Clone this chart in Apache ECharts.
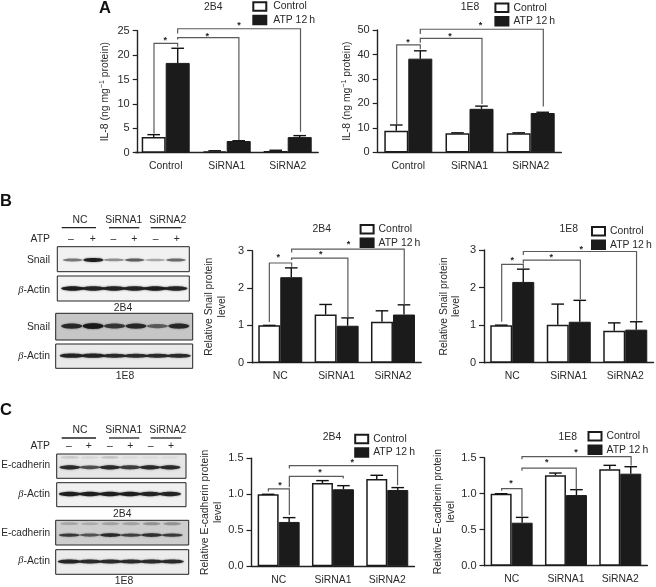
<!DOCTYPE html>
<html>
<head>
<meta charset="utf-8">
<style>
  html, body { margin: 0; padding: 0; background: #fff; }
  #chart { width: 656px; height: 587px; }
</style>
<script src="https://cdn.jsdelivr.net/npm/echarts@6/dist/echarts.min.js"></script>
</head>
<body>
<div id="chart"></div>
<script>
const groupsA = ['Control', 'SiRNA1', 'SiRNA2']
const groupsBC = ['NC', 'SiRNA1', 'SiRNA2']
const ATP_NAME = 'ATP 12\u2009h'
const ticksAL = 25, ticksAR = 50

// panel A, IL-8
const a2b4Control = [3.2, 0.3, 0.35]
const a2b4ControlTop = [3.7, 0.4, 0.5]
const a2b4Atp = [18.4, 2.4, 3.2]
const a2b4AtpTop = [21.4, 2.45, 3.5]
const a1e8Control = [8.8, 7.8, 7.8]
const a1e8ControlTop = [11.2, 8.0, 8.0]
const a1e8Atp = [38.3, 17.8, 16.1]
const a1e8AtpTop = [41.5, 18.9, 16.4]

// panel B, Snail
const b2b4Control = [1.0, 1.29, 1.1]
const b2b4ControlTop = [1.0, 1.56, 1.39]
const b2b4Atp = [2.29, 0.99, 1.29]
const b2b4AtpTop = [2.54, 1.2, 1.55]
const b1e8Control = [1.0, 1.01, 0.85]
const b1e8ControlTop = [1.0, 1.56, 1.06]
const b1e8Atp = [2.15, 1.09, 0.88]
const b1e8AtpTop = [2.49, 1.66, 1.09]

// panel C, E-cadherin
const c2b4Control = [1.0, 1.157, 1.213]
const c2b4ControlTop = [1.0, 1.19, 1.264]
const c2b4Atp = [0.616, 1.07, 1.06]
const c2b4AtpTop = [0.676, 1.12, 1.093]
const c1e8Control = [1.0, 1.255, 1.338]
const c1e8ControlTop = [1.0, 1.287, 1.394]
const c1e8Atp = [0.597, 0.981, 1.278]
const c1e8AtpTop = [0.671, 1.056, 1.375]

// brackets: x left, y left, y top, x right, y right (x in group units, y in axis units)
const a2b4Brackets = [[0.308, 3.96, 22.4, 0.696, 21.7], [0.696, 23.2, 23.6, 1.7, 2.6], [0.696, 24.45, 25.4, 2.71, 4.3]]
const a2b4Stars = [[0.493, 23.3], [1.18, 24.2], [1.7, 26.4]]
const a1e8Brackets = [[0.31, 11.2, 43.9, 0.696, 42.1], [0.696, 44.8, 46.6, 1.704, 19.8], [0.696, 48.4, 50.3, 2.706, 18.7]]
const a1e8Stars = [[0.495, 45.9], [1.18, 48.2], [1.68, 52.7]]
const b2b4Brackets = [[0.306, 1.09, 2.67, 0.702, 2.57], [0.702, 2.75, 2.8, 1.7, 1.21], [0.702, 2.95, 3.04, 2.7, 1.54]]
const b2b4Stars = [[0.465, 2.88], [1.22, 2.95], [1.71, 3.21]]
const b1e8Brackets = [[0.313, 1.09, 2.62, 0.696, 2.51], [0.696, 2.64, 2.73, 1.705, 1.69], [0.696, 2.87, 2.96, 2.7, 1.12]]
const b1e8Stars = [[0.5, 2.78], [1.19, 2.85], [1.72, 3.06]]
const c2b4Brackets = [[0.31, 1.04, 1.074, 0.697, 0.713], [0.697, 1.097, 1.25, 1.69, 1.218], [0.697, 1.36, 1.398, 2.69, 1.125]]
const c2b4Stars = [[0.525, 1.153], [1.26, 1.324], [1.856, 1.472]]
const c1e8Brackets = [[0.316, 1.04, 1.07, 0.69, 0.68], [0.69, 1.32, 1.356, 1.69, 1.06], [0.69, 1.477, 1.514, 2.7, 1.39]]
const c1e8Stars = [[0.488, 1.167], [1.145, 1.454], [1.685, 1.593]]

// western blot band strengths, one per lane
const snail2b4 = [0.5, 0.95, 0.4, 0.6, 0.3, 0.55]
const actinB2b4 = [0.95, 0.9, 0.9, 0.9, 0.95, 0.9]
const snail1e8 = [0.85, 1, 0.75, 0.85, 0.55, 0.85]
const actinB1e8 = [0.9, 0.9, 0.85, 0.85, 0.85, 0.85]
const ecad2b4 = [0.85, 0.65, 0.85, 0.75, 0.85, 0.85]
const actinC2b4 = [0.95, 0.95, 0.95, 0.95, 0.9, 0.9]
const ecad1e8 = [0.75, 0.6, 0.85, 0.7, 0.8, 0.75]
const actinC1e8 = [0.9, 0.85, 0.85, 0.85, 0.85, 0.85]
const ecad2b4Ghost = [0.12, 0.08, 0.15, 0.06, 0.05, 0.05]
const ecad1e8Ghost = [0.2, 0.18, 0.22, 0.22, 0.3, 0.3]

const FONT = '"Liberation Sans", Arial, sans-serif'
const TEXT = '#2a2a2a'
const BLACK = '#1b1b1b'
const SIZE = 10.4

const option = {
  animation: false,
  backgroundColor: '#fff',
  textStyle: { fontFamily: FONT },
  title: [],
  legend: [],
  grid: [],
  xAxis: [],
  yAxis: [],
  series: [],
  graphic: []
}

const addTitle = (text, x, y, size, weight) => {
  option.title.push({
    text,
    left: x,
    top: y,
    textAlign: 'center',
    textVerticalAlign: 'middle',
    padding: 0,
    textStyle: { fontFamily: FONT, fontSize: size || SIZE, fontWeight: weight || 'normal', color: weight ? '#111' : TEXT }
  })
}

const addPanel = p => {
  const grid = option.grid.length
  option.grid.push({ left: p.left, top: p.top, width: p.band * 3, height: p.height })
  const catAxis = option.xAxis.length
  option.xAxis.push({
    type: 'category',
    gridIndex: grid,
    data: p.groups,
    axisLine: { lineStyle: { color: '#222', width: 1.4 } },
    axisTick: { alignWithLabel: true, length: 4, lineStyle: { color: '#222', width: 1.2 } },
    axisLabel: { color: TEXT, fontFamily: FONT, fontSize: SIZE, margin: 8.5 }
  })
  const posAxis = option.xAxis.length
  option.xAxis.push({ type: 'value', gridIndex: grid, min: 0, max: 3, show: false })
  const yAxis = option.yAxis.length
  option.yAxis.push({
    type: 'value',
    gridIndex: grid,
    min: 0,
    max: p.max,
    interval: p.interval,
    offset: p.offset || 0,
    name: p.name,
    nameLocation: 'middle',
    nameGap: p.nameGap,
    nameRotate: 90,
    nameTextStyle: {
      color: TEXT,
      fontFamily: FONT,
      fontSize: SIZE,
      lineHeight: 12.8,
      rich: {
        n: { fontFamily: FONT, fontSize: SIZE, color: TEXT },
        s: { fontFamily: FONT, fontSize: 7, color: TEXT, verticalAlign: 'top', lineHeight: 8 }
      }
    },
    splitLine: { show: false },
    axisLine: { show: true, onZero: false, lineStyle: { color: '#222', width: 1.4 } },
    axisTick: { show: true, length: 5, lineStyle: { color: '#222', width: 1.2 } },
    axisLabel: {
      color: TEXT,
      fontFamily: FONT,
      fontSize: 11,
      margin: 8,
      formatter: v => (p.interval < 1 ? v.toFixed(1) : String(v))
    }
  })

  const barBase = { type: 'bar', xAxisIndex: catAxis, yAxisIndex: yAxis, barWidth: p.barWidth, barGap: 0 }
  option.series.push({
    ...barBase,
    name: 'Control',
    data: p.control,
    itemStyle: { color: '#fff', borderColor: BLACK, borderWidth: 1.5 }
  })
  option.series.push({
    ...barBase,
    name: ATP_NAME,
    data: p.atp,
    itemStyle: { color: BLACK, borderColor: BLACK, borderWidth: 1 }
  })

  // error bars, upper side only
  const half = p.barWidth / p.band / 2
  const errRows = []
  p.control.forEach((v, i) => errRows.push([i + 0.5 - half, v, p.controlTop[i]]))
  p.atp.forEach((v, i) => errRows.push([i + 0.5 + half, v, p.atpTop[i]]))
  option.series.push({
    type: 'custom',
    name: 'error',
    xAxisIndex: posAxis,
    yAxisIndex: yAxis,
    data: errRows,
    encode: { x: 0, y: [1, 2] },
    z: 3,
    renderItem: (params, api) => {
      const base = api.coord([api.value(0), api.value(1)])
      const top = api.coord([api.value(0), api.value(2)])
      const style = { stroke: '#111', lineWidth: 1.4, fill: 'none' }
      return {
        type: 'group',
        children: [
          { type: 'line', shape: { x1: base[0], y1: base[1], x2: top[0], y2: top[1] }, style },
          { type: 'line', shape: { x1: top[0] - 6.3, y1: top[1], x2: top[0] + 6.3, y2: top[1] }, style }
        ]
      }
    }
  })

  option.series.push({
    type: 'custom',
    name: 'bracket',
    xAxisIndex: posAxis,
    yAxisIndex: yAxis,
    data: p.brackets,
    encode: { x: [0, 3], y: [1, 2, 4] },
    z: 4,
    renderItem: (params, api) => {
      const a = api.coord([api.value(0), api.value(1)])
      const b = api.coord([api.value(0), api.value(2)])
      const c = api.coord([api.value(3), api.value(2)])
      const d = api.coord([api.value(3), api.value(4)])
      return {
        type: 'polyline',
        shape: { points: [a, b, c, d] },
        style: { stroke: '#5a5a5a', lineWidth: 1.2, fill: 'none' }
      }
    }
  })

  option.series.push({
    type: 'custom',
    name: 'star',
    xAxisIndex: posAxis,
    yAxisIndex: yAxis,
    data: p.stars,
    encode: { x: 0, y: 1 },
    z: 4,
    renderItem: (params, api) => {
      const pt = api.coord([api.value(0), api.value(1)])
      return {
        type: 'text',
        style: {
          text: '*',
          x: pt[0],
          y: pt[1] + 2,
          align: 'center',
          verticalAlign: 'middle',
          fontFamily: FONT,
          fontSize: 9,
          fontWeight: 'bold',
          fill: '#222'
        }
      }
    }
  })

  option.legend.push({
    left: p.legendX,
    top: p.legendY,
    orient: 'vertical',
    padding: 0,
    itemWidth: 13,
    itemHeight: 8.5,
    itemGap: 3,
    selectedMode: false,
    icon: 'rect',
    data: ['Control', ATP_NAME],
    textStyle: { color: TEXT, fontFamily: FONT, fontSize: SIZE, padding: [0, 0, 0, p.legendPad || 0] }
  })
  addTitle(p.title, p.titleX, p.titleY)
}

const addStrip = s => {
  const grid = option.grid.length
  option.grid.push({
    show: true,
    left: s.left,
    top: s.top,
    width: s.width,
    height: s.height,
    backgroundColor: s.bg,
    borderColor: '#222',
    borderWidth: 1
  })
  const xIdx = option.xAxis.length
  option.xAxis.push({ type: 'value', gridIndex: grid, min: s.laneMin, max: s.laneMax, show: false })
  const yIdx = option.yAxis.length
  option.yAxis.push({ type: 'value', gridIndex: grid, min: 0, max: 1, inverse: true, show: false })
  const addBands = (values, bandY, rx, thick) => {
    option.series.push({
      type: 'custom',
      name: 'band',
      xAxisIndex: xIdx,
      yAxisIndex: yIdx,
      clip: true,
      data: values.map((v, i) => [i, bandY, v]),
      encode: { x: 0, y: 1 },
      renderItem: (params, api) => {
        const pt = api.coord([api.value(0), api.value(1)])
        const v = api.value(2)
        return {
          type: 'ellipse',
          shape: { cx: pt[0], cy: pt[1], rx: rx, ry: thick * (0.45 + v * 0.55) },
          style: { fill: 'rgba(25,25,25,' + v + ')', shadowBlur: 2, shadowColor: 'rgba(25,25,25,' + v * 0.7 + ')' }
        }
      }
    })
  }
  addBands(s.values, s.bandY, s.rx, s.thick)
  if (s.ghost) addBands(s.ghost, 0.14, 9, 2.5)
}

addPanel({
  left: 135.2, top: 30.7, height: 122, band: 61, barWidth: 24, offset: -2.5, max: ticksAL, interval: 5,
  groups: groupsA, control: a2b4Control, controlTop: a2b4ControlTop, atp: a2b4Atp, atpTop: a2b4AtpTop,
  brackets: a2b4Brackets, stars: a2b4Stars,
  name: '{n|IL-8 (ng mg}{s|−1}{n| protein)}', nameGap: 26,
  legendX: 252.3, legendY: 1.2, legendPad: 2, title: '2B4', titleX: 213.3, titleY: 7.5
})
addPanel({
  left: 377.7, top: 30, height: 122.4, band: 61.2, barWidth: 24, max: ticksAR, interval: 10,
  groups: groupsA, control: a1e8Control, controlTop: a1e8ControlTop, atp: a1e8Atp, atpTop: a1e8AtpTop,
  brackets: a1e8Brackets, stars: a1e8Stars,
  name: '{n|IL-8 (ng mg}{s|−1}{n| protein)}', nameGap: 23,
  legendX: 494.4, legendY: 2.4, title: '1E8', titleX: 470, titleY: 7.5
})
addPanel({
  left: 252.1, top: 250.7, height: 112, band: 56.35, barWidth: 22, max: 3, interval: 1,
  groups: groupsBC, control: b2b4Control, controlTop: b2b4ControlTop, atp: b2b4Atp, atpTop: b2b4AtpTop,
  brackets: b2b4Brackets, stars: b2b4Stars,
  name: 'Relative Snail protein\nlevel', nameGap: 24,
  legendX: 359.6, legendY: 224, title: '2B4', titleX: 321.7, titleY: 229.5
})
addPanel({
  left: 484, top: 250, height: 112.7, band: 56.5, barWidth: 22, max: 3, interval: 1,
  groups: groupsBC, control: b1e8Control, controlTop: b1e8ControlTop, atp: b1e8Atp, atpTop: b1e8AtpTop,
  brackets: b1e8Brackets, stars: b1e8Stars,
  name: 'Relative Snail protein\nlevel', nameGap: 21,
  legendX: 591, legendY: 226, title: '1E8', titleX: 568.7, titleY: 229.5
})
addPanel({
  left: 251.5, top: 458.3, height: 108, band: 54.3, barWidth: 21, max: 1.5, interval: 0.5,
  groups: groupsBC, control: c2b4Control, controlTop: c2b4ControlTop, atp: c2b4Atp, atpTop: c2b4AtpTop,
  brackets: c2b4Brackets, stars: c2b4Stars,
  name: 'Relative E-cadherin protein\nlevel', nameGap: 22,
  legendX: 354.2, legendY: 433.8, title: '2B4', titleX: 332, titleY: 436.7
})
addPanel({
  left: 484.5, top: 457.7, height: 108, band: 54.3, barWidth: 21, max: 1.5, interval: 0.5,
  groups: groupsBC, control: c1e8Control, controlTop: c1e8ControlTop, atp: c1e8Atp, atpTop: c1e8AtpTop,
  brackets: c1e8Brackets, stars: c1e8Stars,
  name: 'Relative E-cadherin protein\nlevel', nameGap: 20,
  legendX: 587.5, legendY: 431, title: '1E8', titleX: 567.7, titleY: 436.7
})

const laneB = { laneMin: -0.75, laneMax: 5.65 }
const laneC = { laneMin: -0.66, laneMax: 5.8 }
addStrip({ ...laneB, left: 57.3, top: 246.7, width: 132, height: 25, bg: '#f1f1f1', values: snail2b4, bandY: 0.53, rx: 10, thick: 2 })
addStrip({ ...laneB, left: 57.3, top: 276, width: 132, height: 25, bg: '#f3f3f3', values: actinB2b4, bandY: 0.5, rx: 11.5, thick: 2.3 })
addStrip({ ...laneB, left: 55.7, top: 313.3, width: 137, height: 26.7, bg: '#c6c6c6', values: snail1e8, bandY: 0.48, rx: 10.5, thick: 2.9 })
addStrip({ ...laneB, left: 55.7, top: 344, width: 137, height: 24.3, bg: '#e9e9e9', values: actinB1e8, bandY: 0.48, rx: 12, thick: 2.2 })
addStrip({ ...laneC, left: 56.7, top: 454, width: 129.3, height: 24.3, bg: '#e6e6e6', values: ecad2b4, ghost: ecad2b4Ghost, bandY: 0.55, rx: 10.5, thick: 2.4 })
addStrip({ ...laneC, left: 56.7, top: 482.7, width: 129.3, height: 24, bg: '#f0f0f0', values: actinC2b4, bandY: 0.47, rx: 11, thick: 2.3 })
addStrip({ ...laneC, left: 55.7, top: 520.3, width: 133, height: 24.7, bg: '#cdcdcd', values: ecad1e8, ghost: ecad1e8Ghost, bandY: 0.6, rx: 10.5, thick: 2 })
addStrip({ ...laneC, left: 55.7, top: 549.7, width: 133, height: 24.6, bg: '#ececec', values: actinC1e8, bandY: 0.48, rx: 11.5, thick: 2.2 })

addTitle('A', 105, 8, 16.5, 'bold')
addTitle('B', 6, 201, 16.5, 'bold')
addTitle('C', 6, 410, 16.5, 'bold')
addTitle('2B4', 123, 307.7)
addTitle('1E8', 125, 376)
addTitle('2B4', 122.3, 514.3)
addTitle('1E8', 124, 581)

// labels round the blots
const rightLabel = (text, y, size) => ({
  type: 'text',
  silent: true,
  style: {
    text,
    x: 50,
    y,
    align: 'right',
    verticalAlign: 'middle',
    fontFamily: FONT,
    fontSize: size || SIZE,
    fill: TEXT,
    rich: { b: { fontFamily: '"Liberation Serif", serif', fontStyle: 'italic', fontSize: SIZE, fill: TEXT } }
  }
})
const ACTIN = '{b|β}-Actin'
option.graphic.push(rightLabel('ATP', 239), rightLabel('Snail', 260), rightLabel(ACTIN, 290.3), rightLabel('Snail', 326.7), rightLabel(ACTIN, 356))
option.graphic.push(rightLabel('ATP', 446), rightLabel('E-cadherin', 465.7, 10.1), rightLabel(ACTIN, 494.3), rightLabel('E-cadherin', 533.3, 10.1), rightLabel(ACTIN, 560.7))

const groupHead = (textY, lineY) => {
  const heads = [['NC', 80, 61.7, 96], ['SiRNA1', 123.7, 109, 139.3], ['SiRNA2', 167.7, 150.7, 181.3]]
  heads.forEach(h => {
    addTitle(h[0], h[1], textY)
    option.graphic.push({
      type: 'line',
      silent: true,
      shape: { x1: h[2], y1: lineY, x2: h[3], y2: lineY },
      style: { stroke: '#222', lineWidth: 1.3 }
    })
  })
}
groupHead(220, 227.7)
groupHead(430, 438)

const signRow = (xs, y) => {
  xs.forEach((x, i) => addTitle(i % 2 ? '+' : '–', x, y))
}
signRow([71, 92.7, 113.3, 134.3, 155.7, 176.7], 239)
signRow([69, 88.7, 110, 130.3, 150.7, 171], 446)

const chart = echarts.init(document.getElementById('chart'), null, { renderer: 'canvas' })
chart.setOption(option)
window.addEventListener('resize', () => chart.resize())
</script>
</body>
</html>
